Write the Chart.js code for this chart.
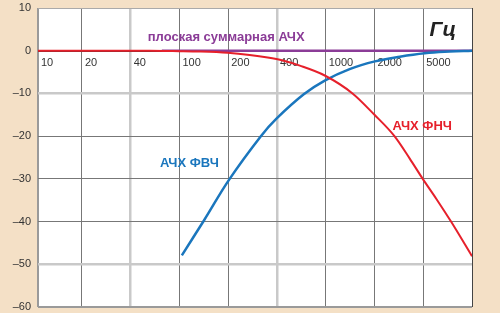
<!DOCTYPE html>
<html>
<head>
<meta charset="utf-8">
<script src="https://cdn.jsdelivr.net/npm/chart.js@4"></script>
<style>
  html, body { margin: 0; padding: 0; background: #f4e0c6; }
  canvas { display: block; }
</style>
</head>
<body>
<canvas id="chart" width="500" height="313"></canvas>
<script>
// x is measured in grid columns: 10, 20, 40, 100, 200, 400, 1000, 2000, 5000 Hz
const gridCols = [0.1, 1, 2, 3, 4, 5, 6, 7, 8, 9];
const freqLabels = ['10', '20', '40', '100', '200', '400', '1000', '2000', '5000'];

const hpfX = [3.05, 3.5, 4.03, 4.67, 4.99, 5.55, 5.98, 6.49, 7.01, 7.52, 8.03, 8.54, 9];
const hpfY = [-47.9, -39.8, -30, -20, -15.9, -10.2, -7, -4.3, -2.5, -1.4, -0.6, -0.2, 0];

const lpfX = [0.1, 2.39, 3.0, 3.41, 3.99, 4.44, 4.81, 5.12, 5.47, 5.98, 6.55, 7.0, 7.41, 7.72, 7.99, 8.27, 8.57, 9];
const lpfY = [0, 0, -0.1, -0.2, -0.5, -1.0, -1.6, -2.3, -3.5, -5.8, -10, -15, -20, -25.2, -30, -34.7, -40, -48.1];

const flatX = [2.64, 9];
const flatY = [0, 0];

const noteText = ['плоская суммарная АЧХ', 'АЧХ ФВЧ', 'АЧХ ФНЧ', 'Гц'];
const noteX = [2.35, 2.6, 7.37, 8.13];
const noteY = [2.35, -27.2, -18.5, 3.4];
const noteColor = ['#8b3c97', '#1a76bd', '#e6202b', '#222222'];

const toPoints = (xs, ys) => xs.map((x, i) => ({ x: x, y: ys[i] }));

const FONT = '"Liberation Sans", Arial, sans-serif';

const backdrop = {
  id: 'backdrop',
  beforeDraw(chart) {
    const { ctx, chartArea: a } = chart;
    ctx.save();
    ctx.fillStyle = '#f4e0c6';
    ctx.fillRect(0, 0, chart.width, chart.height);
    ctx.fillStyle = '#ffffff';
    ctx.fillRect(a.left, a.top, a.right - a.left, a.bottom - a.top);
    ctx.restore();
  }
};

const notes = {
  id: 'notes',
  afterDatasetsDraw(chart) {
    const { ctx, scales } = chart;
    ctx.save();
    noteText.forEach((t, i) => {
      const hz = i === 3;
      ctx.font = hz ? 'italic bold 21px ' + FONT : 'bold 13px ' + FONT;
      ctx.fillStyle = noteColor[i];
      ctx.textAlign = 'left';
      ctx.textBaseline = 'alphabetic';
      ctx.fillText(t, scales.x.getPixelForValue(noteX[i]), scales.y.getPixelForValue(noteY[i]));
    });
    ctx.restore();
  }
};

const xGridColor = ['#9a9a9a', '#777777', '#c9c9c9', '#777777', '#777777', '#c9c9c9', '#777777', '#777777', '#777777', '#444444'];
const xGridWidth = [2, 1, 2.5, 1, 1, 2.5, 1, 1, 1, 1];

function yGrid(v) {
  if (v === 0) return ['#333333', 2];
  if (v === -10 || v === -50) return ['#c9c9c9', 2.5];
  if (v === -60) return ['#9a9a9a', 2];
  if (v === 10) return ['#aaaaaa', 1];
  return ['#777777', 1];
}

function noPad(s) {
  s.paddingTop = 0;
  s.paddingBottom = 0;
  s.paddingLeft = 0;
  s.paddingRight = 0;
}

new Chart(document.getElementById('chart'), {
  type: 'line',
  data: {
    datasets: [
      {
        label: 'АЧХ ФНЧ',
        data: toPoints(lpfX, lpfY),
        borderColor: '#e6202b',
        borderWidth: 2,
        pointRadius: 0,
        cubicInterpolationMode: 'monotone'
      },
      {
        label: 'АЧХ ФВЧ',
        data: toPoints(hpfX, hpfY),
        borderColor: '#1a76bd',
        borderWidth: 2.5,
        pointRadius: 0,
        tension: 0.4
      },
      {
        label: 'плоская суммарная АЧХ',
        data: toPoints(flatX, flatY),
        borderColor: '#8b3c97',
        borderWidth: 2.5,
        pointRadius: 0
      }
    ]
  },
  options: {
    responsive: false,
    animation: false,
    devicePixelRatio: 1,
    layout: { padding: { top: 8, right: 28, bottom: 6, left: 0 } },
    plugins: {
      legend: { display: false },
      tooltip: { enabled: false }
    },
    scales: {
      x: {
        type: 'linear',
        min: 0.1,
        max: 9,
        afterBuildTicks: s => { s.ticks = gridCols.map(v => ({ value: v })); },
        afterFit: s => { s.height = 0; noPad(s); },
        ticks: { display: false },
        border: { display: false },
        grid: {
          drawTicks: false,
          color: c => xGridColor[c.index],
          lineWidth: c => xGridWidth[c.index]
        }
      },
      xl: {
        type: 'linear',
        axis: 'x',
        position: { y: 0 },
        min: 0.1,
        max: 9,
        afterBuildTicks: s => { s.ticks = gridCols.slice(0, 9).map(v => ({ value: v })); },
        afterFit: s => { s.height = 0; noPad(s); },
        border: { display: false },
        grid: { display: false, drawTicks: false },
        ticks: {
          autoSkip: false,
          maxRotation: 0,
          align: 'start',
          labelOffset: 3,
          padding: 6,
          color: '#333333',
          font: { family: FONT, size: 11 },
          callback: (v, i) => freqLabels[i]
        }
      },
      y: {
        min: -60,
        max: 10,
        afterFit: s => { s.width = 38; noPad(s); },
        ticks: {
          stepSize: 10,
          padding: 7,
          color: '#333333',
          font: { family: FONT, size: 11 },
          callback: v => (v < 0 ? '–' + Math.abs(v) : String(v))
        },
        border: { display: false },
        grid: {
          drawTicks: false,
          color: c => yGrid(c.tick.value)[0],
          lineWidth: c => yGrid(c.tick.value)[1]
        }
      }
    }
  },
  plugins: [backdrop, notes]
});
</script>
</body>
</html>
